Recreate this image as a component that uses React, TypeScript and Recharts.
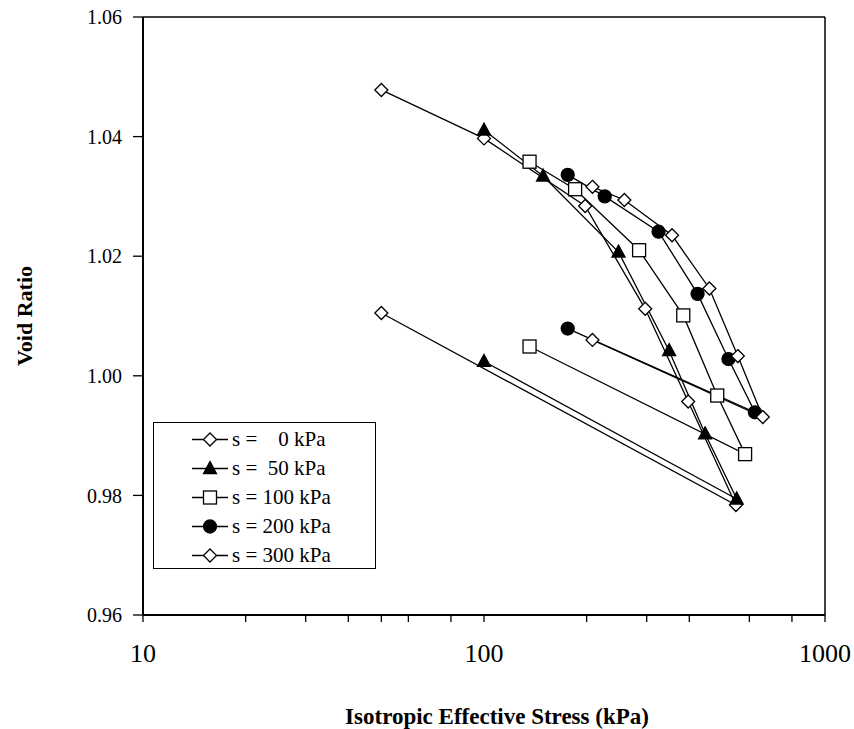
import { ComposedChart, Line, XAxis, YAxis, ReferenceLine, Legend } from "recharts"

const FONT = '"Liberation Serif", "Times New Roman", serif'

// stress (kPa) and void ratio: loading path then unloading point
const s0Stress = [50, 100, 198, 297, 397, 548, 50]
const s0Void = [1.0478, 1.0397, 1.0284, 1.0112, 0.9957, 0.9784, 1.0105]
const s50Stress = [100, 149, 248, 349, 445, 551, 100]
const s50Void = [1.0411, 1.0334, 1.0207, 1.0042, 0.9903, 0.9794, 1.0024]
const s100Stress = [136, 185, 285, 384, 483, 583, 136]
const s100Void = [1.0358, 1.0312, 1.021, 1.0101, 0.9967, 0.9869, 1.0049]
const s200Stress = [176, 226, 325, 423, 521, 623, 176]
const s200Void = [1.0336, 1.03, 1.0241, 1.0137, 1.0028, 0.9939, 1.0079]
const s300Stress = [208, 258, 356, 458, 555, 657, 208]
const s300Void = [1.0316, 1.0294, 1.0235, 1.0146, 1.0033, 0.9931, 1.006]

const xTicks = [10, 20, 30, 40, 50, 60, 70, 80, 90, 100, 200, 300, 400, 500, 600, 700, 800, 900, 1000]
const xLabels = [10, 100, 1000]
const yTicks = [0.96, 0.98, 1.0, 1.02, 1.04, 1.06]

type Shape = 'diamond' | 'triangle' | 'square' | 'circle'

const series: { name: string; shape: Shape; stress: number[]; voids: number[] }[] = [
  { name: 's =    0 kPa', shape: 'diamond', stress: s0Stress, voids: s0Void },
  { name: 's =  50 kPa', shape: 'triangle', stress: s50Stress, voids: s50Void },
  { name: 's = 100 kPa', shape: 'square', stress: s100Stress, voids: s100Void },
  { name: 's = 200 kPa', shape: 'circle', stress: s200Stress, voids: s200Void },
  { name: 's = 300 kPa', shape: 'diamond', stress: s300Stress, voids: s300Void },
]

function Marker({ shape, cx, cy }: { shape: Shape; cx: number; cy: number }) {
  const st = { stroke: '#000', strokeWidth: 1.3 }
  if (shape === 'diamond') {
    const r = 6.5
    return <polygon points={`${cx},${cy - r} ${cx + r},${cy} ${cx},${cy + r} ${cx - r},${cy}`} fill="#fff" {...st} />
  }
  if (shape === 'triangle') {
    return <polygon points={`${cx},${cy - 7} ${cx + 6.5},${cy + 5} ${cx - 6.5},${cy + 5}`} fill="#000" {...st} />
  }
  if (shape === 'square') {
    return <rect x={cx - 6.5} y={cy - 6.5} width={13} height={13} fill="#fff" {...st} />
  }
  return <circle cx={cx} cy={cy} r={6.5} fill="#000" {...st} />
}

const renderDot = (shape: Shape) => (props: any) => {
  if (props.cx == null || props.cy == null) return <g key={props.index} />
  return <Marker key={props.index} shape={shape} cx={props.cx} cy={props.cy} />
}

function XTick({ x, y, payload }: any) {
  if (!xLabels.includes(payload.value)) return <g />
  return (
    <text x={x} y={y + 40} textAnchor="middle" fontSize={26} fontFamily={FONT} fill="#000">
      {payload.value}
    </text>
  )
}

function LegendBox() {
  return (
    <div style={{ width: 223, height: 147, border: '1px solid #000', boxSizing: 'border-box', background: '#fff', paddingTop: 2 }}>
      {series.map(s => (
        <div key={s.name} style={{ height: 29, display: 'flex', alignItems: 'center' }}>
          <svg width={78} height={29} style={{ flex: 'none' }}>
            <line x1={38} x2={74} y1={14.5} y2={14.5} stroke="#000" strokeWidth={1.3} />
            <Marker shape={s.shape} cx={56} cy={14.5} />
          </svg>
          <span style={{ fontFamily: FONT, fontSize: 21, whiteSpace: 'pre', lineHeight: '29px' }}>{s.name}</span>
        </div>
      ))}
    </div>
  )
}

export default function App() {
  return (
    <div style={{ position: 'absolute', left: 0, top: 0 }}>
      <ComposedChart width={854} height={729} margin={{ top: 17, right: 29, bottom: 0, left: 0 }}>
        <XAxis
          type="number"
          dataKey="x"
          scale="log"
          domain={[10, 1000]}
          ticks={xTicks}
          allowDataOverflow
          height={114}
          axisLine={{ stroke: '#000', strokeWidth: 2 }}
          tickLine={{ stroke: '#000', strokeWidth: 1.3 }}
          tickSize={7}
          tickMargin={0}
          tick={XTick}
          label={({ viewBox }: any) => (
            <text x={viewBox.x + viewBox.width / 2 + 13} y={viewBox.y + 109} textAnchor="middle" fontSize={23} fontWeight="bold" fontFamily={FONT} fill="#000">
              Isotropic Effective Stress (kPa)
            </text>
          )}
        />
        <YAxis
          type="number"
          dataKey="e"
          domain={[0.96, 1.06]}
          ticks={yTicks}
          width={143}
          allowDataOverflow
          axisLine={{ stroke: '#000', strokeWidth: 2 }}
          tickLine={{ stroke: '#000', strokeWidth: 1.3 }}
          tickSize={10}
          tickMargin={11}
          tick={{ fontSize: 20, fontFamily: FONT, fill: '#000' }}
          tickFormatter={(v: number) => v.toFixed(2)}
          label={({ viewBox }: any) => {
            const cx = viewBox.x + 24
            const cy = viewBox.y + viewBox.height / 2
            return (
              <text x={cx} y={cy} transform={`rotate(-90 ${cx} ${cy})`} textAnchor="middle" dominantBaseline="central" fontSize={22} fontWeight="bold" fontFamily={FONT} fill="#000">
                Void Ratio
              </text>
            )
          }}
        />
        <ReferenceLine y={1.06} stroke="#000" strokeWidth={1.5} />
        <ReferenceLine x={1000} stroke="#000" strokeWidth={1.5} />
        {series.map(s => (
          <Line
            key={s.name}
            name={s.name}
            data={s.stress.map((x, i) => ({ x, e: s.voids[i] }))}
            dataKey="e"
            type="linear"
            stroke="#000"
            strokeWidth={1.3}
            dot={renderDot(s.shape)}
            activeDot={false}
            isAnimationActive={false}
          />
        ))}
        <Legend
          layout="horizontal"
          verticalAlign="middle"
          align="center"
          content={() => <LegendBox />}
          wrapperStyle={{ left: 153, top: 422, width: 223, height: 147 }}
        />
      </ComposedChart>
    </div>
  )
}
